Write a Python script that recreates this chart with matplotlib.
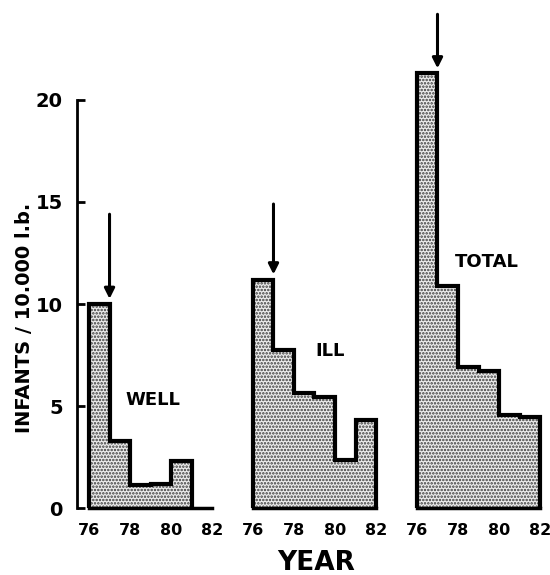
import matplotlib
matplotlib.use('Agg')
import matplotlib.pyplot as plt

# Infants per 10,000 live births, by year
well_years = [76, 77, 78, 79, 80]
well_vals = [10.0, 3.3, 1.15, 1.2, 2.3]

ill_years = [76, 77, 78, 79, 80, 81]
ill_vals = [11.2, 7.75, 5.65, 5.45, 2.35, 4.3]

total_years = [76, 77, 78, 79, 80, 81]
total_vals = [21.3, 10.9, 6.9, 6.7, 4.55, 4.45]

panel_names = ['WELL', 'ILL', 'TOTAL']
arrow_year = 77
xtick_vals = [76, 78, 80, 82]
xtick_labels = ['76', '78', '80', '82']
ytick_vals = [0, 5, 10, 15, 20]
ytick_labels = ['0', '5', '10', '15', '20']

plt.rcParams['font.family'] = ['DejaVu Sans']
plt.rcParams['font.weight'] = 'bold'
plt.rcParams['hatch.linewidth'] = 1.2

fig = plt.figure(figsize=(5.5, 5.75), dpi=100, facecolor='white')

# layout per panel: left edge (fig fraction), label position, arrow tail offset
panels = [
    (well_years, well_vals, 0.1395, (79.1, 5.3), 4.4),
    (ill_years, ill_vals, 0.4376, (79.75, 7.7), 3.7),
    (total_years, total_vals, 0.7358, (79.4, 12.05), 2.9),
]

for i, (years, vals, left, lab_pos, tail) in enumerate(panels):
    ax = fig.add_axes([left, 0.1165, 0.2535, 0.887])
    ax.set_xlim(75.4, 82.2)
    ax.set_ylim(0, 25)
    ax.patch.set_alpha(0)

    edges = years + [years[-1] + 1]
    ax.stairs(vals, edges, baseline=0, fill=True, facecolor='#ececec',
              edgecolor='#3a3a3a', hatch='.....', linewidth=0, zorder=2)
    ax.stairs(vals, edges, baseline=0, fill=False, color='black',
              linewidth=3, zorder=3)

    # arrow pointing down at the 1977 bar
    top = vals[years.index(arrow_year - 1)]
    ax.annotate('', xy=(arrow_year, top + 0.25), xytext=(arrow_year, top + tail),
                arrowprops=dict(arrowstyle='-|>', lw=2.2, color='black',
                                mutation_scale=15, shrinkA=0, shrinkB=0),
                annotation_clip=False)

    ax.text(lab_pos[0], lab_pos[1], panel_names[i], ha='center', va='center',
            fontsize=13, fontweight='bold')

    for s in ['top', 'right']:
        ax.spines[s].set_visible(False)
    ax.spines['bottom'].set_bounds(76, 82)
    ax.spines['bottom'].set_linewidth(2.5)
    ax.set_xticks(xtick_vals)
    ax.set_xticklabels(xtick_labels)
    ax.tick_params(axis='x', length=0, pad=11, labelsize=11.5)

    if i == 0:
        ax.spines['left'].set_bounds(0, 20)
        ax.spines['left'].set_linewidth(2)
        ax.set_yticks(ytick_vals)
        ax.set_yticklabels(ytick_labels)
        ax.tick_params(axis='y', direction='in', length=6, width=2,
                       pad=10, labelsize=14)
    else:
        ax.spines['left'].set_visible(False)
        ax.set_yticks([])

fig.text(25 / 550, 1 - 318 / 575, 'INFANTS / 10.000 l.b.', rotation=90,
         ha='center', va='center', fontsize=14, fontweight='bold')
fig.text(316 / 550, 1 - 563 / 575, 'YEAR', ha='center', va='center',
         fontsize=19, fontweight='bold')

plt.savefig('out.png', dpi=100, facecolor='white')
